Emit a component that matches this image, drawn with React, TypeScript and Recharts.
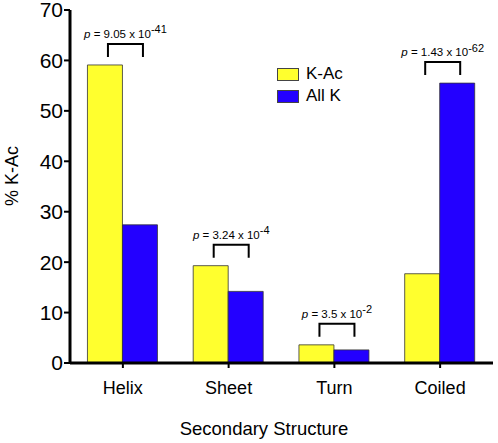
import { BarChart, Bar, XAxis, YAxis, LabelList } from "recharts"

const categories = ["Helix", "Sheet", "Turn", "Coiled"]
const kAc = [59.1, 19.3, 3.6, 17.7]
const allK = [27.4, 14.2, 2.6, 55.5]
const pMantissa = ["9.05", "3.24", "3.5", "1.43"]
const pExponent = ["-41", "-4", "-2", "-62"]
const yTicks = [0, 10, 20, 30, 40, 50, 60, 70]
const seriesNames = ["K-Ac", "All K"]

const FONT = "'Liberation Sans', Arial, Helvetica, sans-serif"
const YELLOW = "#ffff2e"
const BLUE = "#2300ff"

const chartData = categories.map((name, i) => ({
  name,
  kac: kAc[i],
  all: allK[i],
}))

function Bracket(props: any) {
  const vb = props.viewBox ?? props
  const { x, y, width, height } = vb
  let i = props.index
  if (i === undefined || i === null) i = allK.indexOf(props.value)
  if (x === undefined || i < 0) return null
  const base = y + height
  const yellowTop = base - (height * kAc[i]) / allK[i]
  const top = Math.min(y, yellowTop) - 21
  const left = x - width / 2 + 3
  const right = x + width / 2 + 3
  const mid = (left + right) / 2
  return (
    <g>
      <path
        d={`M${left},${top + 13} L${left},${top} L${right},${top} L${right},${top + 13}`}
        fill="none"
        stroke="#000"
        strokeWidth={2}
      />
      <text
        x={mid}
        y={top - 6}
        textAnchor="middle"
        fontFamily={FONT}
        fontSize={11.5}
        fill="#000"
      >
        <tspan fontStyle="italic">p</tspan>
        <tspan>{` = ${pMantissa[i]} x 10`}</tspan>
        <tspan dy={-4.5} fontSize={11}>
          {pExponent[i]}
        </tspan>
      </text>
    </g>
  )
}

function CategoryTick(props: any) {
  const { x, y, payload } = props
  return (
    <text
      x={x}
      y={y + 26}
      textAnchor="middle"
      fontFamily={FONT}
      fontSize={18}
      fill="#000"
    >
      {payload.value}
    </text>
  )
}

function LegendBox() {
  const colors = [YELLOW, BLUE]
  return (
    <div
      style={{
        position: "absolute",
        left: 277,
        top: 63,
        fontFamily: FONT,
        fontSize: 17,
        color: "#000",
      }}
    >
      {seriesNames.map((label, i) => (
        <div
          key={label}
          style={{ display: "flex", alignItems: "center", height: 22 }}
        >
          <span
            style={{
              display: "inline-block",
              width: 20,
              height: 11,
              background: colors[i],
              border: "1px solid #444",
              marginRight: 7,
            }}
          />
          <span>{label}</span>
        </div>
      ))}
    </div>
  )
}

export default function App() {
  return (
    <div
      style={{
        position: "absolute",
        left: 0,
        top: 0,
        width: 498,
        height: 443,
        background: "#fff",
      }}
    >
      <BarChart
        width={498}
        height={443}
        data={chartData}
        margin={{ top: 10, right: 5, bottom: 0, left: 0 }}
        barCategoryGap="16.5%"
        barGap={0}
      >
        <XAxis
          dataKey="name"
          height={80}
          axisLine={{ stroke: "#000", strokeWidth: 3 }}
          tickLine={{ stroke: "#000", strokeWidth: 2 }}
          tickSize={5}
          tickMargin={0}
          tick={<CategoryTick />}
          label={{
            content: () => (
              <text
                x={264}
                y={435}
                textAnchor="middle"
                fontFamily={FONT}
                fontSize={18.5}
                fill="#000"
              >
                Secondary Structure
              </text>
            ),
          }}
        />
        <YAxis
          width={70}
          domain={[0, 70]}
          ticks={yTicks}
          interval={0}
          axisLine={{ stroke: "#000", strokeWidth: 3 }}
          tickLine={{ stroke: "#000", strokeWidth: 2 }}
          tickSize={6}
          tickMargin={1}
          tick={{ fontSize: 21, fill: "#000", fontFamily: FONT }}
          label={{
            content: () => (
              <text
                x={12}
                y={176}
                transform="rotate(-90 12 176)"
                textAnchor="middle"
                dominantBaseline="central"
                fontFamily={FONT}
                fontSize={18}
                fill="#000"
              >
                % K-Ac
              </text>
            ),
          }}
        />
        <Bar
          dataKey="kac"
          name={seriesNames[0]}
          fill={YELLOW}
          stroke="#333"
          strokeWidth={0.8}
          isAnimationActive={false}
        />
        <Bar
          dataKey="all"
          name={seriesNames[1]}
          fill={BLUE}
          stroke="#333"
          strokeWidth={0.8}
          isAnimationActive={false}
        >
          <LabelList dataKey="all" content={<Bracket />} />
        </Bar>
      </BarChart>
      <LegendBox />
    </div>
  )
}
